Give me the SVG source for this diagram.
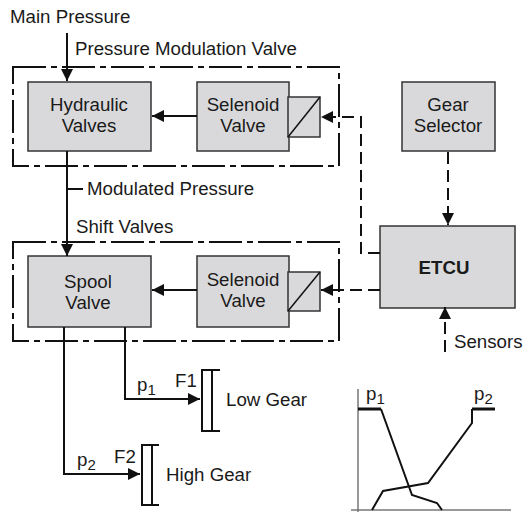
<svg xmlns="http://www.w3.org/2000/svg" width="523" height="513" viewBox="0 0 523 513">
<style>
text{font-family:"Liberation Sans",Arial,sans-serif;font-size:18.7px;fill:#1a1a1a}
.m{text-anchor:middle}
.b{fill:#d9d9db;stroke:#333;stroke-width:1.5}
.f{fill:none;stroke:#111;stroke-width:2;stroke-dasharray:33 5 6 5}
.l{fill:none;stroke:#111;stroke-width:2}
.t{fill:none;stroke:#111;stroke-width:1.5}
.d{fill:none;stroke:#111;stroke-width:2;stroke-dasharray:12 6}
.s{font-size:15px}
</style>
<defs>
<marker id="a" markerUnits="userSpaceOnUse" markerWidth="13" markerHeight="12" refX="12" refY="6" orient="auto"><path d="M0 0L12 6L0 12Z" fill="#111"/></marker>
</defs>
<g id="frames">
<rect class="f" x="13" y="67" width="326" height="99"/>
<rect class="f" x="13" y="242" width="326" height="99"/>
</g>
<g id="hydraulic"><rect class="b" x="28" y="82" width="123" height="69"/><text class="m" x="89" y="111">Hydraulic</text><text class="m" x="89" y="132">Valves</text></g>
<g id="selenoid1"><rect class="b" x="197" y="82" width="92" height="69"/><text class="m" x="243" y="111">Selenoid</text><text class="m" x="243" y="132">Valve</text><rect class="b" x="288" y="97" width="32" height="40"/><path class="t" d="M288 137L320 97"/></g>
<g id="spool"><rect class="b" x="28" y="256" width="123" height="71"/><text class="m" x="88" y="288">Spool</text><text class="m" x="88" y="309">Valve</text></g>
<g id="selenoid2"><rect class="b" x="197" y="256" width="92" height="71"/><text class="m" x="243" y="286">Selenoid</text><text class="m" x="243" y="307">Valve</text><rect class="b" x="288" y="272" width="32" height="39"/><path class="t" d="M288 311L320 272"/></g>
<g id="gear-selector"><rect class="b" x="402" y="82" width="93" height="69"/><text class="m" x="448" y="111">Gear</text><text class="m" x="448" y="132">Selector</text></g>
<g id="etcu"><rect class="b" x="380" y="226" width="135" height="82"/><text class="m" x="444" y="274" style="font-weight:bold">ETCU</text></g>
<g id="connectors">
<path class="l" d="M67 33V81" marker-end="url(#a)"/>
<path class="l" d="M67 151V256" marker-end="url(#a)"/>
<path class="l" d="M67 189H83"/>
<path class="l" d="M197 116H152" marker-end="url(#a)"/>
<path class="l" d="M197 290H152" marker-end="url(#a)"/>
<path class="d" d="M380 253H361V117H321" marker-end="url(#a)"/>
<path class="d" d="M380 290H321" marker-end="url(#a)"/>
<path class="d" d="M448 152V225" marker-end="url(#a)"/>
<path class="d" d="M445 352V307" marker-end="url(#a)"/>
<path class="l" d="M125 327V399H200" marker-end="url(#a)"/>
<path class="l" d="M64 327V474H140" marker-end="url(#a)"/>
</g>
<g id="low-gear"><path class="l" d="M220 370H202V431H220M212 370V431"/><text x="175" y="387">F1</text><text x="226" y="406">Low Gear</text></g>
<g id="high-gear"><path class="l" d="M159 445H142V505H159M152 445V505"/><text x="114" y="463">F2</text><text x="166" y="481">High Gear</text></g>
<g id="labels">
<text x="10" y="23">Main Pressure</text>
<text x="75" y="55">Pressure Modulation Valve</text>
<text x="87" y="195">Modulated Pressure</text>
<text x="76" y="233">Shift Valves</text>
<text x="454" y="348">Sensors</text>
<text x="137" y="391">p<tspan class="s" dy="4">1</tspan></text>
<text x="77" y="466">p<tspan class="s" dy="4">2</tspan></text>
</g>
<g id="chart">
<path d="M358 389V512" fill="none" stroke="#333" stroke-width="1"/>
<path d="M351 510H511" fill="none" stroke="#777" stroke-width="1.5"/>
<path class="l" d="M381 409L412 495L437 503L442 510"/>
<path class="l" d="M372 510L383 491L428 483L472 423V409"/>
<path d="M358 409H381M472 409H495" fill="none" stroke="#111" stroke-width="3"/>
<text x="366" y="400">p<tspan class="s" dy="4">1</tspan></text>
<text x="474" y="400">p<tspan class="s" dy="4">2</tspan></text>
</g>
</svg>
